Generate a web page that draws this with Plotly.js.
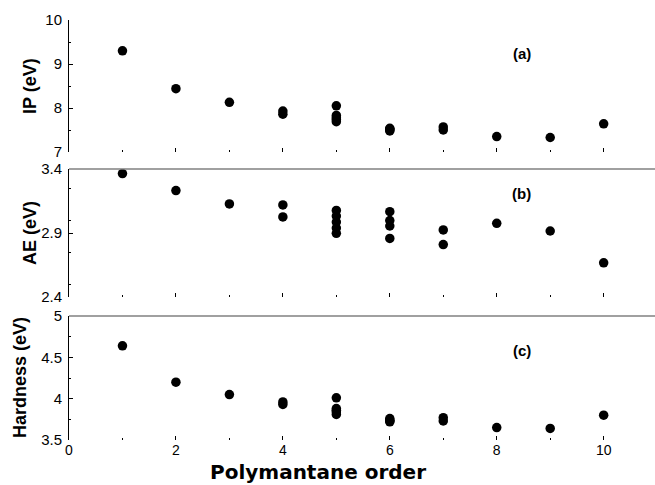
<!DOCTYPE html>
<html>
<head>
<meta charset="utf-8">
<script src="https://cdn.plot.ly/plotly-3.0.1.min.js"></script>
<style>html,body{margin:0;padding:0;background:#fff;}#chart{width:655px;height:485px;}</style>
</head>
<body>
<div id="chart"></div>
<script>
// Polymantane order for each computed structure
const order = [1, 2, 3, 4, 4, 5, 5, 5, 5, 5, 6, 6, 6, 6, 7, 7, 8, 9, 10];
// Ionization potential (eV)
const ip = [9.30, 8.44, 8.13, 7.93, 7.86, 8.05, 7.83, 7.78, 7.74, 7.69, 7.54, 7.52, 7.50, 7.48, 7.57, 7.50, 7.35, 7.33, 7.64];
// Electron affinity (eV)
const ae = [3.365, 3.232, 3.128, 3.12, 3.026, 3.077, 3.033, 2.986, 2.939, 2.898, 3.067, 2.998, 2.955, 2.858, 2.924, 2.81, 2.976, 2.916, 2.667];
// Chemical hardness (eV)
const hardness = [4.64, 4.20, 4.05, 3.96, 3.93, 4.01, 3.88, 3.86, 3.84, 3.81, 3.76, 3.74, 3.73, 3.72, 3.77, 3.73, 3.65, 3.64, 3.80];

const panelLabels = ['(a)', '(b)', '(c)'];
const yTitles = ['IP (eV)', 'AE (eV)', 'Hardness (eV)'];
const xTitle = 'Polymantane order';

const font = 'Liberation Sans, Arial, sans-serif';
const marker = {symbol: 'circle', size: 9.5, color: '#000'};

const traces = [
  {x: order, y: ip, xaxis: 'x2', yaxis: 'y2', mode: 'markers', type: 'scatter', marker: marker},
  {x: order, y: ae, xaxis: 'x3', yaxis: 'y3', mode: 'markers', type: 'scatter', marker: marker},
  {x: order, y: hardness, xaxis: 'x', yaxis: 'y', mode: 'markers', type: 'scatter', marker: marker}
];

function xax(anchor, labels) {
  return {
    anchor: anchor, range: [0, 10.96], dtick: 2, tick0: 0,
    ticks: 'inside', ticklen: 4, tickwidth: 1, tickcolor: '#000',
    minor: {dtick: 1, ticks: 'inside', ticklen: 2, tickwidth: 1, tickcolor: '#000'},
    showline: false, showgrid: false, zeroline: false,
    showticklabels: labels,
    tickfont: {family: font, size: 14, color: '#000'}
  };
}
function yax(domain, range, dtick, tick0, anchor) {
  return {
    domain: domain, range: range, dtick: dtick, tick0: tick0, anchor: anchor,
    ticks: 'inside', ticklen: 4, tickwidth: 1, tickcolor: '#000',
    minor: {dtick: dtick / 2, ticks: 'inside', ticklen: 2, tickwidth: 1, tickcolor: '#000'},
    showline: true, linecolor: '#000', linewidth: 1,
    showgrid: false, zeroline: false,
    ticklabelstandoff: 3,
    tickfont: {family: font, size: 15, color: '#000'}
  };
}
function ytitle(text, yref, xpx) {
  return {text: '<b>' + text + '</b>', textangle: -90, xref: 'paper', yref: yref, x: (xpx - 69) / 586, y: 0.5,
    xanchor: 'center', yanchor: 'middle', showarrow: false, font: {family: font, size: 18, color: '#000'}};
}
function plabel(text, xref, yref, y) {
  return {text: '<b>' + text + '</b>', xref: xref, yref: yref, x: 8.47, y: y, xanchor: 'center', yanchor: 'middle',
    showarrow: false, font: {family: font, size: 15, color: '#000'}};
}

const layout = {
  width: 655, height: 485,
  margin: {l: 69, r: 0, t: 20, b: 45},
  paper_bgcolor: '#fff', plot_bgcolor: '#fff',
  showlegend: false,
  xaxis: xax('y', true),
  xaxis2: xax('y2', false),
  xaxis3: xax('y3', false),
  yaxis: yax([0, 0.2952], [3.5, 5], 0.5, 3.5, 'x'),
  yaxis2: yax([0.6857, 1], [7, 10], 1, 7, 'x2'),
  yaxis3: yax([0.3405, 0.645], [2.4, 3.4], 0.5, 2.4, 'x3'),
  shapes: [
    {type: 'line', xref: 'paper', x0: 0, x1: 1, yref: 'y3 domain', y0: 1, y1: 1, line: {color: '#808080', width: 1.5}},
    {type: 'line', xref: 'paper', x0: 0, x1: 1, yref: 'y domain', y0: 1, y1: 1, line: {color: '#808080', width: 1.5}}
  ],
  annotations: [
    ytitle(yTitles[0], 'y2 domain', 30),
    ytitle(yTitles[1], 'y3 domain', 30),
    ytitle(yTitles[2], 'y domain', 20),
    plabel(panelLabels[0], 'x2', 'y2 domain', 0.75),
    plabel(panelLabels[1], 'x3', 'y3 domain', 0.81),
    plabel(panelLabels[2], 'x', 'y domain', 0.72),
    {text: '<b>' + xTitle + '</b>', xref: 'paper', yref: 'paper', x: 0.425, y: -0.1071, xanchor: 'center', yanchor: 'bottom',
      borderpad: 0, showarrow: false, font: {family: 'DejaVu Sans, sans-serif', size: 20, color: '#000'}}
  ]
};

Plotly.newPlot('chart', traces, layout, {displayModeBar: false, staticPlot: true});
</script>
</body>
</html>
